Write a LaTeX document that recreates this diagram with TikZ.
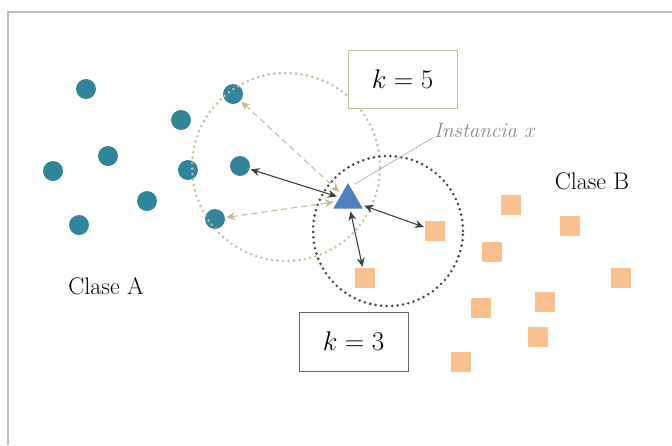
\documentclass[tikz,border=0pt]{standalone}
\usepackage{fix-cm}
\usepackage{fontspec}
\setmainfont{Latin Modern Roman}
\usetikzlibrary{shapes.geometric,arrows.meta}
\definecolor{teal}{RGB}{49,133,155}
\definecolor{tan}{RGB}{196,189,151}
\definecolor{peach}{RGB}{250,192,144}
\definecolor{triblue}{RGB}{79,129,189}
\definecolor{darkg}{RGB}{64,64,64}
\definecolor{frameg}{RGB}{190,190,190}
\begin{document}
\begin{tikzpicture}[x=1pt,y=-1pt,
  pt/.style={circle,fill=teal,minimum size=20pt,inner sep=0pt},
  sq/.style={rectangle,fill=peach,minimum size=20pt,inner sep=0pt},
  darr/.style={{Stealth[length=9pt,width=8pt]}-{Stealth[length=9pt,width=8pt]},darkg,line width=1.1pt,shorten <=1pt,shorten >=1pt},
  tarr/.style={{Stealth[length=9pt,width=8pt]}-{Stealth[length=9pt,width=8pt]},tan,line width=1.1pt,dash pattern=on 6pt off 4pt,shorten <=1pt,shorten >=1pt},
  kbox/.style={rectangle,line width=1pt,fill=white,inner sep=0pt,font=\fontsize{27}{32}\selectfont},
  lbl/.style={font=\fontsize{24}{28}\selectfont,inner sep=0pt}
]
\useasboundingbox (0,0) rectangle (672,445);
\draw[frameg,line width=1.2pt] (8,445) -- (8,12) -- (672,12);
% circles (class A)
\node[pt] (c1) at (86,89) {};
\node[pt] (c2) at (181,120) {};
\node[pt] (c3) at (233,94) {};
\node[pt] (c4) at (108,156) {};
\node[pt] (c5) at (53,171) {};
\node[pt] (c6) at (188,170) {};
\node[pt] (c7) at (240,166) {};
\node[pt] (c8) at (147,201) {};
\node[pt] (c9) at (79,225) {};
\node[pt] (c10) at (215,219) {};
% squares (class B)
\node[sq] (s1) at (435,231) {};
\node[sq] (s2) at (365,278) {};
\node[sq] (s3) at (511,205) {};
\node[sq] (s4) at (570,226) {};
\node[sq] (s5) at (492,252) {};
\node[sq] (s6) at (621,278) {};
\node[sq] (s7) at (545,302) {};
\node[sq] (s8) at (481,308) {};
\node[sq] (s9) at (538,337) {};
\node[sq] (s10) at (461,362) {};
% dotted circles
\draw[tan,line width=2.8pt,dash pattern=on 0pt off 5.5pt,line cap=round] (286,167) circle (94pt);
\draw[darkg,line width=2.8pt,dash pattern=on 0pt off 5.5pt,line cap=round] (388,231) circle (75pt);
% query instance
\node[regular polygon,regular polygon sides=3,fill=triblue,minimum size=34pt,inner sep=0pt,outer sep=2pt] (q) at (348,200) {};
% arrows
\draw[darr] (c7) -- (q);
\draw[darr] (q) -- (s1);
\draw[darr] (q) -- (s2);
\draw[tarr] (c3) -- (q);
\draw[tarr] (c10) -- (q);
% labels
\node[kbox,draw=tan,minimum width=109pt,minimum height=58pt] (k5) at (402.5,79.5) {$k=5$};
\node[kbox,draw=darkg!80,minimum width=109pt,minimum height=59pt] (k3) at (353.5,341.5) {$k=3$};
\node[font=\fontsize{21}{25}\selectfont\itshape,text=gray!90,anchor=base west,inner sep=0pt] (inst) at (434,137) {Instancia $x$};
\coordinate (instend) at (355,184);
\draw[gray!70,line width=0.6pt] (inst.base west) -- (instend);
\node[lbl] (ca) at (106,286) {Clase A};
\node[lbl] (cb) at (592,181) {Clase B};
\end{tikzpicture}
\end{document}
